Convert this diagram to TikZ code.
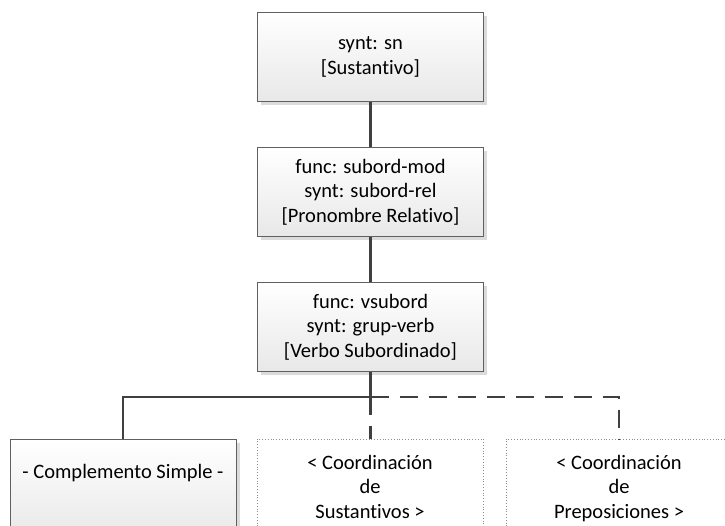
\documentclass[tikz,border=0pt]{standalone}
\usepackage{fontspec}
\setmainfont{Carlito}[Ligatures=NoCommon]
\usetikzlibrary{shadows}
\definecolor{linec}{HTML}{404040}
\definecolor{boxc}{HTML}{606060}
\tikzset{
  txt/.style={font=\fontsize{20.5}{24.5}\selectfont},
  mainbox/.style={txt, draw=boxc, line width=1pt, top color=white, bottom color=black!9,
    minimum width=226pt, minimum height=89pt, align=center, inner sep=0pt,
    drop shadow={shadow xshift=3.5pt, shadow yshift=-3.5pt, fill=black!14, opacity=1}},
  optbox/.style={txt, draw=black!45, line width=0.8pt, dotted, fill=white,
    minimum width=226pt, minimum height=100pt, align=center, inner sep=0pt},
  conn/.style={draw=linec, line width=2.4pt},
  optconn/.style={draw=linec, line width=2.4pt, dash pattern=on 18pt off 11pt},
  lbl/.style={txt, inner sep=0pt}
}
\begin{document}
\begin{tikzpicture}[x=1pt,y=-1pt]
\useasboundingbox (0,0) rectangle (725,526);
\clip (0,0) rectangle (725,526);
\node[mainbox] (b1) at (370.5,57) {synt: sn\\{[}Sustantivo{]}};
\node[mainbox] (b2) at (370.5,192) {func: subord-mod\\synt: subord-rel\\{[}Pronombre Relativo{]}};
\node[mainbox] (b3) at (370.5,327) {func: vsubord\\synt: grup-verb\\{[}Verbo Subordinado{]}};
\node[mainbox, minimum height=100pt] (bA) at (123,489) {};
\node[lbl] (tA) at (123,473) {- Complemento Simple -};
\node[optbox] (bB) at (370,489) {\strut{}< Coordinación\\\strut{}de\\\strut{}Sustantivos >};
\node[optbox] (bC) at (619,489) {\strut{}< Coordinación\\\strut{}de\\\strut{}Preposiciones >};
\coordinate (j) at (370.5,397);
\draw[conn] (b1.south) -- (b2.north);
\draw[conn] (b2.south) -- (b3.north);
\draw[conn] (b3.south) -- (j) -| (bA.north);
\draw[optconn] (j) -- (j |- bB.north);
\draw[optconn] (j) -| (bC.north);
\end{tikzpicture}
\end{document}
